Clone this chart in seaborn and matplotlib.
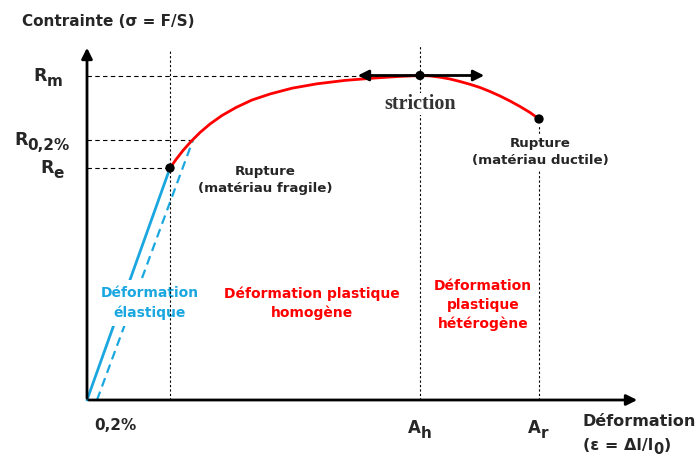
import matplotlib
matplotlib.use("Agg")
import matplotlib.pyplot as plt
import seaborn as sns
import pandas as pd

# Courbe contrainte-deformation (unites arbitraires)
eps_courbe = [83, 89, 96, 104, 113, 123, 135, 149, 165, 183, 205, 230, 258, 288, 313, 333,
              343, 353, 363, 373, 383, 393, 403, 413, 423, 433, 443, 452]
sig_courbe = [232, 240.5, 249.5, 258.5, 267.5, 276, 284.5, 292.5, 300, 306, 311.8, 316.2, 319.6,
              322, 323.6, 324.5, 324.1, 322.8, 321, 318.5, 315.7, 312.5, 308.5, 304, 299,
              293.5, 287.5, 281]

# Zone elastique et droite decalee de 0,2%
eps_elas = [0, 83]
sig_elas = [0, 232]
eps_decal = [10, 106]
sig_decal = [0, 260]

# Niveaux caracteristiques
Re, R02, Rm = 232, 260, 324.5
Ah, Ar = 333, 452
sig_rupture = 281

bleu = "#1aa7e0"
rouge = "#ff0000"
gris = "#262626"
police = ['DejaVu Sans']

sns.set_style("white")
plt.rcParams['font.family'] = ['DejaVu Sans']

fig = plt.figure(figsize=(6.97, 4.57), dpi=100)
ax = fig.add_axes([0, 0, 1, 1])
ax.set_xlim(-87, 610)
ax.set_ylim(-57, 400)
ax.axis('off')
renderer = fig.canvas.get_renderer()


# texte avec indice : morceaux (texte, decalage vertical en points, taille)
def texte_indice(x, y, morceaux):
    xc = x
    for txt, dy, taille in morceaux:
        t = ax.annotate(txt, xy=(xc, y), xytext=(0, dy), textcoords='offset points',
                        fontsize=taille, fontweight='bold', color=gris, family=police,
                        ha='left', va='center')
        bb = t.get_window_extent(renderer)
        xc = ax.transData.inverted().transform((bb.x1, bb.y0))[0]


# Lignes de rappel
ax.vlines([eps_elas[1]], 0, 350, colors='black', linestyles=(0, (2, 2)), lw=0.8, zorder=3)
ax.vlines([Ah], 0, 355, colors='black', linestyles=(0, (2, 2)), lw=0.8, zorder=1)
ax.vlines([Ar], 0, 275, colors='black', linestyles=(0, (2, 2)), lw=0.8, zorder=1)
ax.hlines([Rm], 0, Ah, colors='black', linestyles=(0, (4, 3)), lw=0.8, zorder=1)
ax.hlines([R02], 0, eps_decal[1], colors='black', linestyles=(0, (4, 3)), lw=0.8, zorder=1)
ax.hlines([Re], 0, eps_elas[1], colors='black', linestyles=(0, (4, 3)), lw=0.8, zorder=1)

# Courbes
elas = pd.DataFrame({'eps': eps_elas, 'sig': sig_elas})
decal = pd.DataFrame({'eps': eps_decal, 'sig': sig_decal})
courbe = pd.DataFrame({'eps': eps_courbe, 'sig': sig_courbe})
sns.lineplot(data=elas, x='eps', y='sig', color=bleu, lw=2, ax=ax, zorder=1, sort=False)
sns.lineplot(data=decal, x='eps', y='sig', color=bleu, lw=1.6, ax=ax, zorder=1, sort=False,
             linestyle=(0, (4, 2.5)))
sns.lineplot(data=courbe, x='eps', y='sig', color=rouge, lw=2, ax=ax, zorder=2, sort=False)

# Fleche de striction
ax.annotate('', xy=(268, Rm), xytext=(400, Rm),
            arrowprops=dict(arrowstyle='<|-|>', lw=2, color='black', mutation_scale=16), zorder=4)

# Points
pts = pd.DataFrame({'eps': [eps_elas[1], Ah, Ar], 'sig': [Re, Rm, sig_rupture]})
sns.scatterplot(data=pts, x='eps', y='sig', color='black', s=45, ax=ax, zorder=5, edgecolor='none')

# Axes fleches
ax.annotate('', xy=(0, 355), xytext=(0, -1),
            arrowprops=dict(arrowstyle='-|>', lw=2, color='black', mutation_scale=16), zorder=6)
ax.annotate('', xy=(553, 0), xytext=(-1, 0),
            arrowprops=dict(arrowstyle='-|>', lw=2, color='black', mutation_scale=16), zorder=6)
ax.set_xlabel('')
ax.set_ylabel('')

# Textes
ax.text(-65, 378, 'Contrainte (σ = F/S)', fontsize=11, fontweight='bold', color=gris,
        family=police, ha='left', va='center')
texte_indice(-54, 324, [('R', 0, 12.5), ('m', -4, 11)])
texte_indice(-73, 260, [('R', 0, 12.5), ('0,2%', -4, 11)])
texte_indice(-47, 232, [('R', 0, 12.5), ('e', -4, 11)])
texte_indice(Ah - 12, -28, [('A', 0, 12), ('h', -4, 11)])
texte_indice(Ar - 11, -28, [('A', 0, 12), ('r', -4, 11)])
texte_indice(496, -45, [('(ε = Δl/l', 0, 11.5), ('0', -3, 10.5), (')', 0, 11.5)])
ax.text(28, -25, '0,2%', fontsize=11, fontweight='bold', color=gris, family=police,
        ha='center', va='center')
ax.text(496, -22, 'Déformation', fontsize=11.5, fontweight='bold', color=gris, family=police,
        ha='left', va='center')

ax.text(Ah, 296, 'striction', fontsize=14.5, fontweight='bold', color='#333333',
        family='Liberation Serif', ha='center', va='center', zorder=5,
        bbox=dict(fc='white', ec='none', pad=1))
ax.text(178, 220, 'Rupture\n(matériau fragile)', fontsize=9.6, fontweight='bold', color=gris,
        family=police, ha='center', va='center', linespacing=1.45, zorder=5)
ax.text(453, 248, 'Rupture\n(matériau ductile)', fontsize=9.6, fontweight='bold', color=gris,
        family=police, ha='center', va='center', linespacing=1.45, zorder=5,
        bbox=dict(fc='white', ec='none', pad=2))
ax.text(63, 97, 'Déformation\nélastique', fontsize=10, fontweight='bold', color=bleu,
        family=police, ha='center', va='center', linespacing=1.4, zorder=2,
        bbox=dict(fc='white', ec='none', pad=5))
ax.text(225, 97, 'Déformation plastique\nhomogène', fontsize=10, fontweight='bold', color=rouge,
        family=police, ha='center', va='center', linespacing=1.4, zorder=5)
ax.text(396, 95, 'Déformation\nplastique\nhétérogène', fontsize=10, fontweight='bold', color=rouge,
        family=police, ha='center', va='center', linespacing=1.45, zorder=5)

fig.savefig('out.png', dpi=100)
